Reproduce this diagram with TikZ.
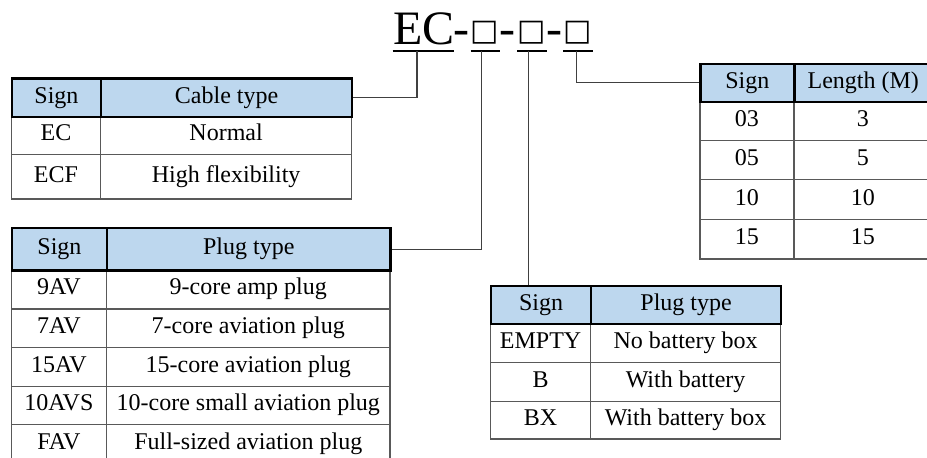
\documentclass[tikz,border=0pt]{standalone}
\usepackage{fontspec}
\setmainfont{Liberation Serif}
\newfontfamily\boxfont{DejaVu Sans}
\definecolor{headblue}{HTML}{BDD7EE}
\tikzset{
  cell/.style 2 args={draw=black!65, line width=0.6pt, inner sep=0pt, anchor=north west,
    minimum width=(#1)*0.5pt, minimum height=(#2)*0.5pt, text height=8pt, text depth=2.6pt,
    font=\fontsize{12}{14}\selectfont},
  head/.style 2 args={cell={#1}{#2}, draw=black, line width=1.1pt, fill=headblue},
  part/.style={inner sep=0pt, anchor=base, font=\fontsize{24}{28}\selectfont},
  hyphen/.style={part, inner xsep=-3pt},
  blank/.style={inner sep=0pt, inner xsep=-2pt, anchor=south, font=\boxfont\fontsize{15}{18}\selectfont},
  link/.style={draw=black!75, line width=0.6pt},
}
\begin{document}
\begin{tikzpicture}[x=0.5pt,y=-0.5pt]
  \useasboundingbox (0,0) rectangle (927,457);
  % part number EC-x-x-x
  \node[part, anchor=base west] (ec) at (392.7,44.3) {EC};
  \node[hyphen] (d1) at (461.7,44.3) {-};
  \node[hyphen] (d2) at (507.8,44.3) {-};
  \node[hyphen] (d3) at (554.2,44.3) {-};
  \node[blank] (b1) at (484.7,44.3) {□};
  \node[blank] (b2) at (532,44.3) {□};
  \node[blank] (b3) at (578,44.3) {□};
  \draw[line width=0.85pt] (392.7,50.7) -- (454,50.7);
  \draw[line width=0.85pt] (470.7,50.7) -- (500,50.7);
  \draw[line width=0.85pt] (517.3,50.7) -- (546.7,50.7);
  \draw[line width=0.85pt] (563.3,50.7) -- (593.3,50.7);
  \coordinate (u1) at (417,50.7);
  \coordinate (u2) at (481.7,50.7);
  \coordinate (u3) at (528.3,50.7);
  \coordinate (u4) at (576.7,50.7);
  % cable type
  \foreach \s/\t/\ya/\yb in {EC/Normal/115.7/154, ECF/High flexibility/154/198.3}{
    \node[cell={89.3}{\yb-\ya}] (cab-\s) at (10.7,\ya) {\s};
    \node[cell={251}{\yb-\ya}] (cab-\s-t) at (100,\ya) {\t};
  }
  \node[head={89.3}{38.4}] (cab-s) at (10.7,77.3) {Sign};
  \node[head={251}{38.4}] (cab-t) at (100,77.3) {Cable type};
  % plug type
  \foreach \s/\t/\ya/\yb in {9AV/9-core amp plug/269.3/308.3, 7AV/7-core aviation plug/308.3/346.7,
      15AV/15-core aviation plug/346.7/385.7, 10AVS/10-core small aviation plug/385.7/424,
      FAV/Full-sized aviation plug/424/462}{
    \node[cell={95.3}{\yb-\ya}] (plug-\s) at (10.7,\ya) {\s};
    \node[cell={283.3}{\yb-\ya}] (plug-\s-t) at (106,\ya) {\t};
  }
  \node[head={95.3}{42.6}] (plug-s) at (10.7,226.7) {Sign};
  \node[head={283.3}{42.6}] (plug-t) at (106,226.7) {Plug type};
  % battery
  \foreach \s/\t/\ya/\yb in {EMPTY/No battery box/322.7/361.7, B/With battery/361.7/400.7,
      BX/With battery box/400.7/438.3}{
    \node[cell={100}{\yb-\ya}] (bat-\s) at (490,\ya) {\s};
    \node[cell={190}{\yb-\ya}] (bat-\s-t) at (590,\ya) {\t};
  }
  \node[head={100}{37.7}] (bat-s) at (490,285) {Sign};
  \node[head={190}{37.7}] (bat-t) at (590,285) {Plug type};
  % length
  \foreach \s/\t/\ya/\yb in {03/3/100.7/140, 05/5/140/179, 10/10/179/219, 15/15/219/258.3}{
    \node[cell={94}{\yb-\ya}] (len-\s) at (699.3,\ya) {\s};
    \node[cell={137.7}{\yb-\ya}] (len-\s-t) at (793.3,\ya) {\t};
  }
  \node[head={94}{38}] (len-s) at (699.3,62.7) {Sign};
  \node[head={137.7}{38}] (len-t) at (793.3,62.7) {Length (M)};
  % connectors
  \draw[link] (u1) |- (cab-t.east);
  \draw[link] (u2) |- (plug-t.east);
  \draw[link] (u3) -- (u3 |- bat-s.north);
  \draw[link] (u4) |- (len-s.west);
\end{tikzpicture}
\end{document}
